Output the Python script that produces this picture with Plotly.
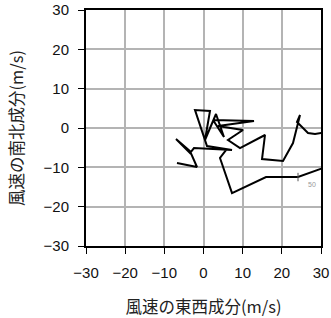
import plotly.graph_objects as go

u = [-6.77, -1.66, -3.45, -7.02, -3.45, -2.43, 7.28, 0.89, -2.17, 1.66, 0.38, 3.19, 5.23,
     2.43, 12.89, 3.70, 10.08, 6.25, 9.32, 15.70, 14.94, 20.30, 22.85, 24.13, 24.64, 23.87,
     26.68, 28.47, 33.57, 36.1, 30.25, 24.13, 15.96, 7.28, 4.21, 5.74]
v = [-8.91, -9.92, -5.85, -2.80, -6.36, -5.09, -5.60, -4.58, 4.58, 4.33, -3.05, 3.56, -2.29,
     2.04, 1.78, 0.51, -0.51, -3.05, -5.09, -1.78, -7.89, -8.40, -3.82, 1.27, 3.31, 1.53,
     -1.27, -1.53, -0.76, -8.14, -10.18, -12.47, -12.47, -16.54, -7.63, -5.60]
mark_u = [24.13]
mark_v = [-12.47]
label_u = [27.7]
label_v = [-14.5]
label_text = ["50"]
ticks = [-30, -20, -10, 0, 10, 20, 30]
tick_text = ["\u221230", "\u221220", "\u221210", "0", "10", "20", "30"]

fig = go.Figure()
fig.add_trace(go.Scatter(x=u, y=v, mode="lines", line=dict(color="black", width=2),
                         hoverinfo="skip", showlegend=False))
fig.add_trace(go.Scatter(x=mark_u, y=mark_v, mode="markers",
                         marker=dict(symbol="line-ns", size=6, line=dict(color="#555", width=1)),
                         showlegend=False))
fig.add_trace(go.Scatter(x=label_u, y=label_v, mode="text", text=label_text,
                         textfont=dict(size=7, color="#999", family="Liberation Sans"),
                         showlegend=False))

axis_common = dict(range=[-30, 30], tickvals=ticks, ticktext=tick_text, showgrid=True,
                   gridcolor="#b4b4b4", gridwidth=1.5, zeroline=False, showline=True,
                   linecolor="black", linewidth=2, mirror=True, ticks="outside",
                   ticklen=6, tickcolor="black", tickwidth=1, automargin=False,
                   tickfont=dict(family="Liberation Sans, Arial", size=15, color="#111"))

fig.update_layout(
    width=331, height=318,
    margin=dict(l=86, r=10, t=10, b=72),
    plot_bgcolor="white", paper_bgcolor="white",
    xaxis=dict(**axis_common, ticklabelstandoff=6,
               title=dict(text="風速の東西成分(m/s)", standoff=21,
                          font=dict(family="Noto Sans CJK JP", size=16.5, color="#222"))),
    yaxis=dict(**axis_common, ticklabelstandoff=6,
               title=dict(text="風速の南北成分(m/s)", standoff=16,
                          font=dict(family="Noto Sans CJK JP", size=16.5, color="#222"))),
)

fig.write_html("out.html")
